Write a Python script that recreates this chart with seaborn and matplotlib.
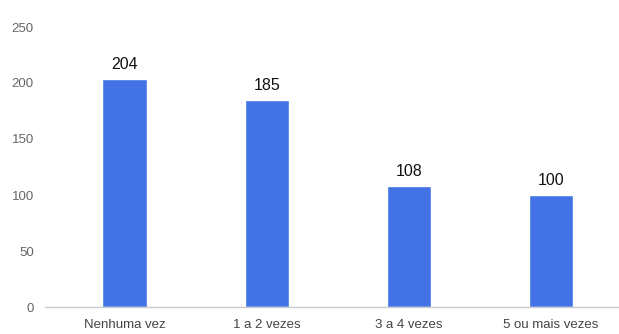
import matplotlib
matplotlib.use("Agg")
import matplotlib.pyplot as plt
import seaborn as sns
import pandas as pd

categories = ["Nenhuma vez", "1 a 2 vezes", "3 a 4 vezes", "5 ou mais vezes"]
counts = [204, 185, 108, 100]
y_ticks = [0, 50, 100, 150, 200, 250]

df = pd.DataFrame({"categoria": categories, "respostas": counts})

sns.set_style("white")
plt.rcParams["font.family"] = ["Liberation Sans", "DejaVu Sans"]

fig = plt.figure(figsize=(6.19, 3.34), dpi=100)
ax = fig.add_axes([45 / 619, 27 / 334, 574 / 619, 280 / 334])

sns.barplot(data=df, x="categoria", y="respostas", color="#4272E6",
            saturation=1, width=0.31, ax=ax)

# value labels above the bars
for i, v in enumerate(counts):
    ax.text(i, v + 6, str(v), ha="center", va="bottom",
            fontsize=11.5, color="#111111", clip_on=False)

ax.set_xlim(-0.559, 3.478)
ax.set_ylim(0, 250)
ax.set_yticks(y_ticks)
ax.set_yticklabels([str(t) for t in y_ticks], fontsize=9.5, color="#666666")
ax.tick_params(axis="y", length=0, pad=8)
ax.tick_params(axis="x", length=0, pad=9, labelsize=9.5, labelcolor="#444444")
ax.set_xlabel("")
ax.set_ylabel("")

for s in ["top", "right", "left"]:
    ax.spines[s].set_visible(False)
ax.spines["bottom"].set_color("#cccccc")
ax.spines["bottom"].set_linewidth(1)

fig.savefig("out.png", dpi=100)
plt.close()
